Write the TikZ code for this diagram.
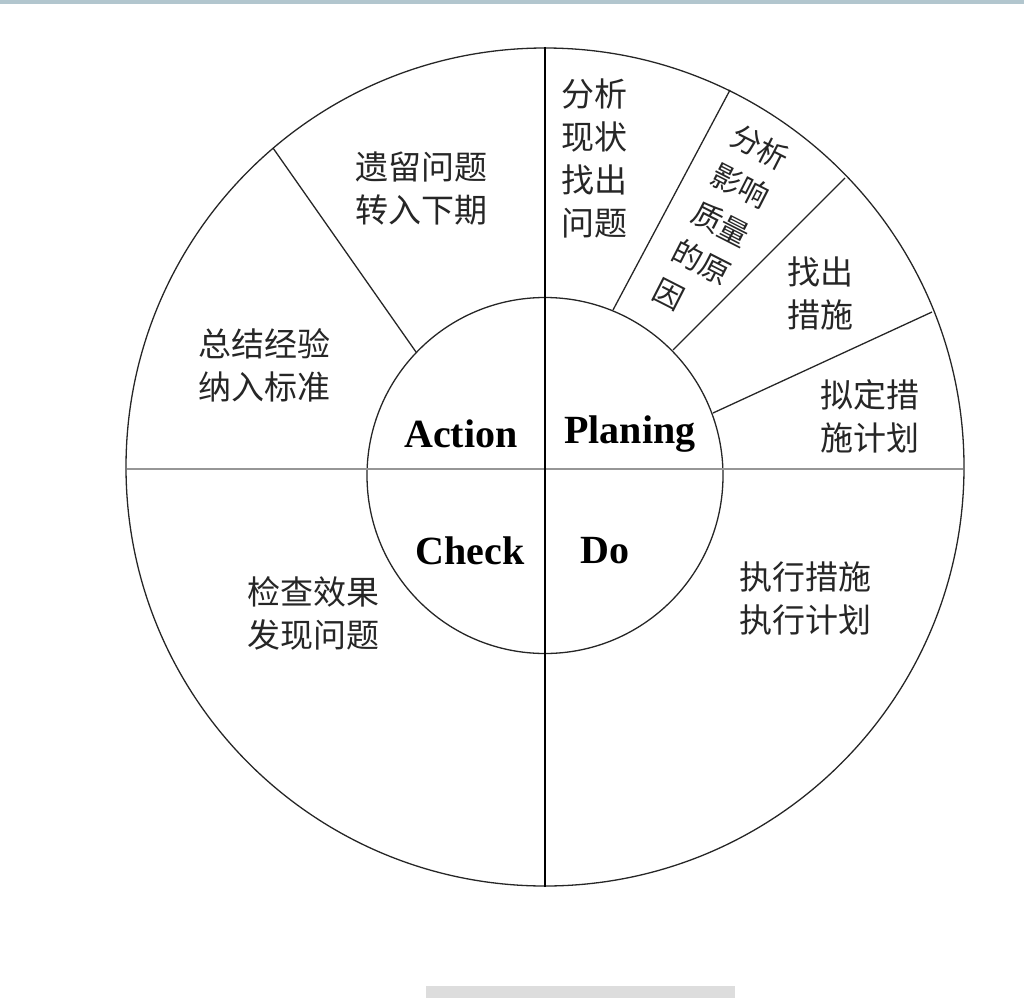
\documentclass[tikz,border=0pt]{standalone}
\usepackage{fontspec}
\setmainfont{Liberation Serif}
\newfontfamily\cjk{Noto Sans CJK SC}
\usetikzlibrary{positioning}
\definecolor{topbar}{RGB}{178,198,206}
\definecolor{midline}{RGB}{150,150,150}
\definecolor{footbar}{RGB}{221,221,221}

\begin{document}
\begin{tikzpicture}[x=1pt, y=-1pt,
      phase/.style={inner sep=0pt, font=\fontsize{40}{40}\selectfont\bfseries},
      task/.style={inner sep=0pt, align=center, text=black!85,
                   font=\cjk\fontsize{33}{43}\selectfont},
      divider/.style={draw=black!85, line width=1.3pt}]

    \useasboundingbox (0,0) rectangle (1024,998);
    \fill[topbar] (0,0) rectangle (1024,4);
    \fill[footbar] (426,986) rectangle (735,998);

    \coordinate (O) at (545,467);
    \coordinate (I) at (545,475.5);
    \draw[divider] (O) circle[radius=419];
    \draw[divider] (I) circle[radius=178];

    \coordinate (W) at (127,469);
    \coordinate (E) at (963,469);
    \coordinate (N) at (545,47);
    \coordinate (S) at (545,887);
    \draw[midline, line width=2pt] (W) -- (E);
    \draw[line width=1.6pt] (N) -- (S);

    % spokes between the two rings
    \coordinate (a1) at (416,352);  \coordinate (a2) at (273,148);
    \coordinate (p1) at (613,310);  \coordinate (p2) at (730,90);
    \coordinate (q1) at (673,350);  \coordinate (q2) at (845,178);
    \coordinate (r1) at (713,413);  \coordinate (r2) at (932,312);
    \draw[divider] (a1) -- (a2);
    \draw[divider] (p1) -- (p2);
    \draw[divider] (q1) -- (q2);
    \draw[divider] (r1) -- (r2);

    \node[phase] (act) at (461,434) {Action};
    \node[phase] (plan) at (630,434) {Planing};
    \node[phase] (chk) at (470,551) {Check};
    \node[phase] (do) at (605,551) {Do};

    \node[task] (leave) at (421,189) {遗留问题\\转入下期};
    \node[task] (sum) at (264,365) {总结经验\\纳入标准};
    \node[task] (find) at (594,158) {分析\\现状\\找出\\问题};
    \node[task, align=left, rotate=-27, font=\cjk\fontsize{30}{43}\selectfont]
         (cause) at (721,224) {分析\\影响\\质量\\的原\\因};
    \node[task] (meas) at (820,293) {找出\\措施};
    \node[task] (plandef) at (870,416) {拟定措\\施计划};
    \node[task] (exec) at (805,598) {执行措施\\执行计划};
    \node[task] (test) at (313,613) {检查效果\\发现问题};
  \end{tikzpicture}
\end{document}
